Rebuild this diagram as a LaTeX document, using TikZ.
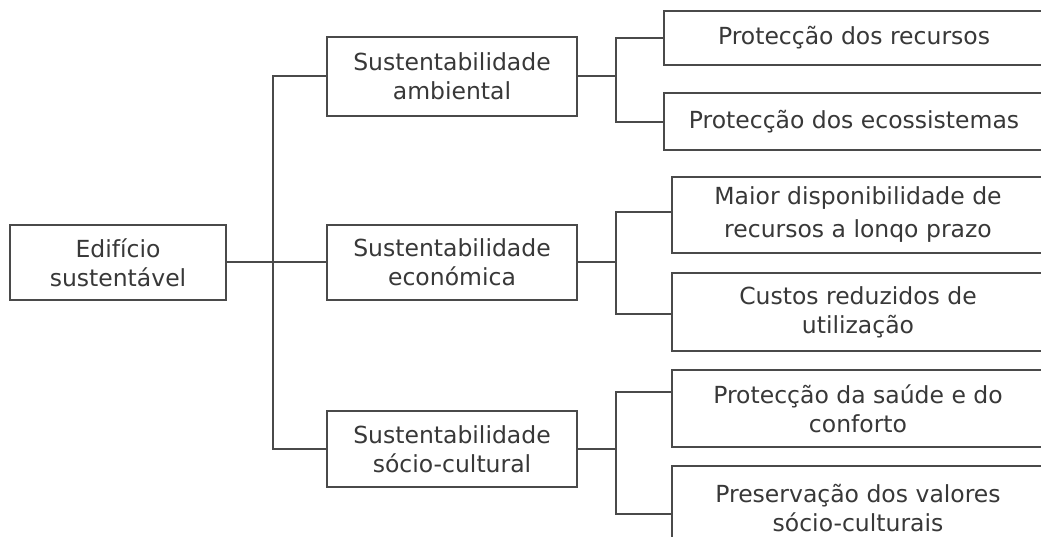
\documentclass[tikz,border=0pt]{standalone}
\usepackage{fontspec}
\setmainfont{DejaVu Sans}
\usetikzlibrary{calc}
\definecolor{ln}{HTML}{4A4A4A}
\definecolor{tx}{HTML}{383838}
\begin{document}
\begin{tikzpicture}[x=1pt,y=-1pt,
  box/.style={draw=ln, line width=2pt, fill=white, align=center, text=tx,
    font=\fontsize{23.5}{29}\selectfont, inner sep=0pt},
  conn/.style={draw=ln, line width=2pt}]
\useasboundingbox (0,0) rectangle (1041,537);
\clip (0,0) rectangle (1041,537);
\fill[white] (0,0) rectangle (1041,537);
% level 0
\node[box, minimum width=216pt, minimum height=75pt] (root) at (118,262.5) {Edifício\\sustentável};
% level 1
\node[box, minimum width=250pt, minimum height=79pt] (amb) at (452,76.5) {Sustentabilidade\\ambiental};
\node[box, minimum width=250pt, minimum height=75pt] (eco) at (452,262.5) {Sustentabilidade\\económica};
\node[box, minimum width=250pt, minimum height=76pt] (soc) at (452,449) {Sustentabilidade\\sócio-cultural};
% level 2
\node[box, minimum width=380pt, minimum height=54pt] (l1) at (854,38) {Protecção dos recursos};
\node[box, minimum width=380pt, minimum height=57pt] (l2) at (854,121.5) {Protecção dos ecossistemas};
\node[box, minimum width=372pt, minimum height=76pt, font=\fontsize{23.5}{33}\selectfont] (l3) at (858,215) {Maior disponibilidade de\\recursos a lonqo prazo};
\node[box, minimum width=372pt, minimum height=78pt] (l4) at (858,312) {Custos reduzidos de\\utilização};
\node[box, minimum width=372pt, minimum height=77pt] (l5) at (858,408.5) {Protecção da saúde e do\\conforto};
\node[box, minimum width=372pt, minimum height=84pt] (l6) at (858,508) {Preservação dos valores\\sócio-culturais};
% trunk
\coordinate (tk) at (273,0);
\draw[conn] (root.east) -- (eco.west);
\draw[conn] (amb.west) -- (amb.west -| tk) -- (soc.west -| tk) -- (soc.west);
% forks
\coordinate (fk) at (616,0);
\coordinate (a1) at (616,38);   \coordinate (a2) at (616,122);
\coordinate (e1) at (616,212);  \coordinate (e2) at (616,314);
\coordinate (s1) at (616,392);  \coordinate (s2) at (616,514);
\draw[conn] (amb.east) -- (amb.east -| fk);
\draw[conn] (l1.west |- a1) -- (a1) -- (a2) -- (l2.west |- a2);
\draw[conn] (eco.east) -- (eco.east -| fk);
\draw[conn] (l3.west |- e1) -- (e1) -- (e2) -- (l4.west |- e2);
\draw[conn] (soc.east) -- (soc.east -| fk);
\draw[conn] (l5.west |- s1) -- (s1) -- (s2) -- (l6.west |- s2);
\end{tikzpicture}
\end{document}
